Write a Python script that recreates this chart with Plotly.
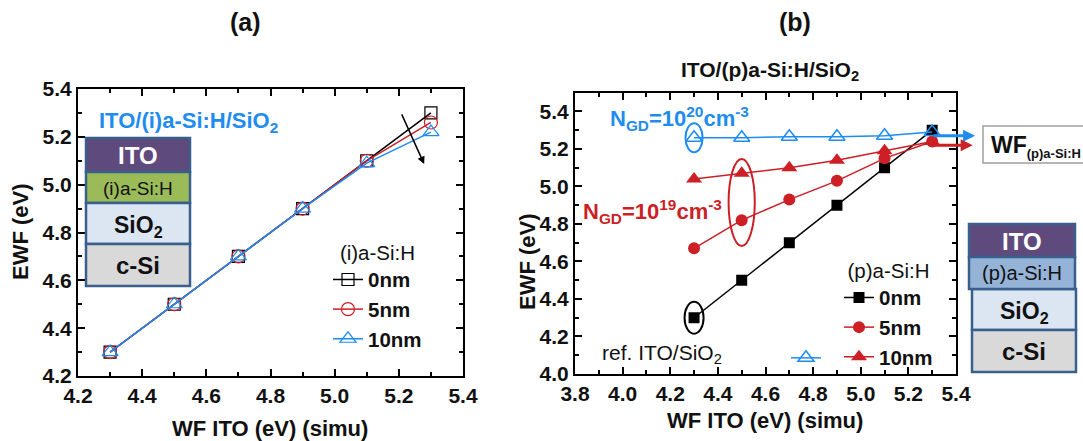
import plotly.graph_objects as go

W, H = 1083, 441

# ---------------- data ----------------
wf_ito = [4.3, 4.5, 4.7, 4.9, 5.1, 5.3]
# panel (a): ITO/(i)a-Si:H/SiO2
a_0nm = [4.30, 4.50, 4.70, 4.90, 5.10, 5.30]
a_5nm = [4.30, 4.50, 4.70, 4.90, 5.10, 5.26]
a_10nm = [4.30, 4.50, 4.70, 4.90, 5.09, 5.22]
# panel (b): ITO/(p)a-Si:H/SiO2
b_0nm = [4.30, 4.50, 4.70, 4.90, 5.10, 5.30]
b_5nm_e19 = [4.67, 4.82, 4.93, 5.03, 5.15, 5.24]
b_10nm_e19 = [5.04, 5.07, 5.10, 5.14, 5.19, 5.24]
b_10nm_e20 = [5.26, 5.26, 5.265, 5.265, 5.27, 5.29]

a_names = ["0nm", "5nm", "10nm"]
b_names = ["0nm", "5nm", "10nm"]

BLACK = "#000000"
RED = "#CC1F26"
BLUE = "#1E8CF0"
FONT = "Liberation Sans, Arial, sans-serif"


def px(x):
    return x / W


def py(y):
    return 1 - y / H


fig = go.Figure()

# panel (a) traces
fig.add_trace(go.Scatter(x=wf_ito, y=a_0nm, name=a_names[0], mode="lines+markers",
                         line=dict(color=BLACK, width=1.5),
                         marker=dict(symbol="square-open", size=12, color=BLACK, line=dict(width=1.2)),
                         xaxis="x", yaxis="y", legend="legend", legendgroup="a0"))
fig.add_trace(go.Scatter(x=wf_ito, y=a_5nm, name=a_names[1], mode="lines+markers",
                         line=dict(color=RED, width=1.5),
                         marker=dict(symbol="circle-open", size=13, color=RED, line=dict(width=1.2)),
                         xaxis="x", yaxis="y", legend="legend", legendgroup="a1"))
fig.add_trace(go.Scatter(x=wf_ito, y=a_10nm, name=a_names[2], mode="lines+markers",
                         line=dict(color=BLUE, width=1.5),
                         marker=dict(symbol="triangle-up-open", size=14, color=BLUE, line=dict(width=1.2)),
                         xaxis="x", yaxis="y", legend="legend", legendgroup="a2"))

# panel (b) traces
fig.add_trace(go.Scatter(x=wf_ito, y=b_0nm, name=b_names[0], mode="lines+markers",
                         line=dict(color=BLACK, width=1.5),
                         marker=dict(symbol="square", size=11, color=BLACK),
                         xaxis="x2", yaxis="y2", legend="legend2", legendgroup="b0"))
fig.add_trace(go.Scatter(x=wf_ito, y=b_5nm_e19, name=b_names[1], mode="lines+markers",
                         line=dict(color=RED, width=1.5),
                         marker=dict(symbol="circle", size=12, color=RED),
                         xaxis="x2", yaxis="y2", legend="legend2", legendgroup="b1"))
fig.add_trace(go.Scatter(x=wf_ito, y=b_10nm_e19, name=b_names[2], mode="lines+markers",
                         line=dict(color=RED, width=1.5),
                         marker=dict(symbol="triangle-up", size=14, color=RED),
                         xaxis="x2", yaxis="y2", legend="legend2", legendgroup="b2"))
fig.add_trace(go.Scatter(x=wf_ito, y=b_10nm_e20, name=" ", mode="lines+markers",
                         line=dict(color=BLUE, width=1.5),
                         marker=dict(symbol="triangle-up-open", size=14, color=BLUE, line=dict(width=1.5)),
                         xaxis="x2", yaxis="y2", legend="legend3", legendgroup="b3"))

axis_common = dict(
    showgrid=False, zeroline=False, showline=True, linecolor="black", linewidth=2,
    mirror="allticks", ticks="inside", ticklen=7, tickwidth=1.5, tickcolor="black",
    tickfont=dict(family=FONT, size=21, color="#111", weight="bold"),
    dtick=0.2, tickformat=".1f", automargin=False,
    minor=dict(ticks="inside", ticklen=4, tickwidth=1.5, dtick=0.1, tickcolor="black"),
)
leg_font = dict(family=FONT, size=20.5, color="#111", weight="bold")
leg_title_font = dict(family=FONT, size=20.5, color="#111", weight="normal")

fig.update_layout(
    width=W, height=H, margin=dict(l=0, r=0, t=0, b=0, autoexpand=False),
    plot_bgcolor="white", paper_bgcolor="white",
    font=dict(family=FONT, color="#111"),
    xaxis=dict(axis_common, domain=[px(78), px(463)], range=[4.2, 5.4], anchor="y"),
    yaxis=dict(axis_common, domain=[py(376), py(89)], range=[4.2, 5.4], anchor="x"),
    xaxis2=dict(axis_common, domain=[px(575), px(956)], range=[3.8, 5.4], anchor="y2"),
    yaxis2=dict(axis_common, domain=[py(374), py(92.7)], range=[4.0, 5.5], anchor="x2"),
    legend=dict(x=px(328), y=py(233), xanchor="left", yanchor="top",
                bgcolor="rgba(0,0,0,0)", borderwidth=0, tracegroupgap=0,
                font=leg_font,
                title=dict(text="(i)a-Si:H", side="top center", font=leg_title_font)),
    legend2=dict(x=px(839), y=py(251), xanchor="left", yanchor="top",
                 bgcolor="rgba(0,0,0,0)", borderwidth=0, tracegroupgap=0,
                 font=leg_font,
                 title=dict(text="(p)a-Si:H", side="top center", font=leg_title_font)),
    legend3=dict(x=px(786), y=py(338), xanchor="left", yanchor="top",
                 bgcolor="rgba(0,0,0,0)", borderwidth=0,
                 font=leg_font),
)

shapes = []
annotations = []


def rect(x0, y0, x1, y1, fill, line="#3A5F8C", lw=2.5):
    shapes.append(dict(type="rect", xref="paper", yref="paper",
                       x0=px(x0), x1=px(x1), y0=py(y1), y1=py(y0),
                       fillcolor=fill, line=dict(color=line, width=lw), layer="above"))


def text(x, y, s, size=20, color="#111", bold=True, xanchor="center", yanchor="middle", angle=0):
    annotations.append(dict(x=px(x), y=py(y), xref="paper", yref="paper", text=s,
                            showarrow=False, xanchor=xanchor, yanchor=yanchor, textangle=angle,
                            align="left" if xanchor == "left" else "center", borderpad=0,
                            font=dict(family=FONT, size=size, color=color,
                                      weight="bold" if bold else "normal")))


PURPLE = "#5F4A7D"
GREEN = "#9BBB59"
SIO2 = "#DCE6F2"
CSI = "#D9D9D9"
PLAYER = "#95B3D7"

# inset (a)
rect(86, 138, 190, 172, PURPLE)
rect(86, 172, 190, 203, GREEN)
rect(86, 203, 190, 244, SIO2)
rect(86, 244, 190, 286, CSI)
text(138, 155, "ITO", size=24, color="white")
text(138, 188, "(i)a-Si:H", size=19, bold=False)
text(138, 226, "SiO<sub>2</sub>", size=23)
text(138, 265, "c-Si", size=24)

# inset (b)
rect(972, 289, 1076, 330, SIO2)
rect(972, 330, 1076, 372, CSI)
rect(969, 224, 1075, 257, PURPLE)
rect(969, 257, 1075, 289, PLAYER)
text(1022, 241, "ITO", size=24, color="white")
text(1022, 273, "(p)a-Si:H", size=20, bold=False)
text(1024, 312, "SiO<sub>2</sub>", size=23)
text(1024, 351, "c-Si", size=24)

# WF box
rect(983, 126, 1095, 163, "white", line="#A0A0A0", lw=1.5)
text(990, 147, "WF<sub><span style='font-size:13px'>(p)a-Si:H</span></sub>", size=23, xanchor="left")

# titles & labels
text(245, 22, "(a)", size=25)
text(795, 22, "(b)", size=25)
text(98, 122, "ITO/(i)a-Si:H/SiO<sub>2</sub>", size=22, color=BLUE, xanchor="left")
text(770, 71, "ITO/(p)a-Si:H/SiO<sub>2</sub>", size=21)
text(270, 428, "WF ITO (eV) (simu)", size=22)
text(765, 420, "WF ITO (eV) (simu)", size=22)
text(21, 232, "EWF (eV)", size=22, angle=-90)
text(527, 262, "EWF (eV)", size=22, angle=-90)
text(609, 118, "N<sub>GD</sub>=10<sup>20</sup>cm<sup>-3</sup>", size=22, color=BLUE, xanchor="left")
text(582, 211, "N<sub>GD</sub>=10<sup>19</sup>cm<sup>-3</sup>", size=22, color=RED, xanchor="left")
text(601, 354, "ref. ITO/SiO<sub>2</sub>", size=21, bold=False, xanchor="left")

# ellipses (b)
shapes.append(dict(type="circle", xref="x2", yref="y2", x0=4.264, x1=4.336, y0=5.183, y1=5.337,
                   line=dict(color=BLUE, width=2)))
shapes.append(dict(type="circle", xref="x2", yref="y2", x0=4.445, x1=4.555, y0=4.683, y1=5.147,
                   line=dict(color=RED, width=2)))
shapes.append(dict(type="circle", xref="x2", yref="y2", x0=4.26, x1=4.34, y0=4.215, y1=4.385,
                   line=dict(color=BLACK, width=2)))

# arrows
annotations.append(dict(x=5.279, y=5.086, ax=5.207, ay=5.30, xref="x", yref="y", axref="x", ayref="y",
                        showarrow=True, arrowhead=2, arrowsize=1, arrowwidth=1.5, arrowcolor="black", text=""))
annotations.append(dict(x=5.48, y=5.27, ax=5.3, ay=5.27, xref="x2", yref="y2", axref="x2", ayref="y2",
                        showarrow=True, arrowhead=2, arrowsize=0.8, arrowwidth=3, arrowcolor=BLUE, text=""))
annotations.append(dict(x=5.47, y=5.22, ax=5.3, ay=5.22, xref="x2", yref="y2", axref="x2", ayref="y2",
                        showarrow=True, arrowhead=2, arrowsize=0.8, arrowwidth=3, arrowcolor=RED, text=""))

fig.update_layout(shapes=shapes, annotations=annotations)
fig.write_html("out.html", config={"displayModeBar": False},
               post_script="document.body.style.margin='0';document.body.style.overflow='hidden';")
